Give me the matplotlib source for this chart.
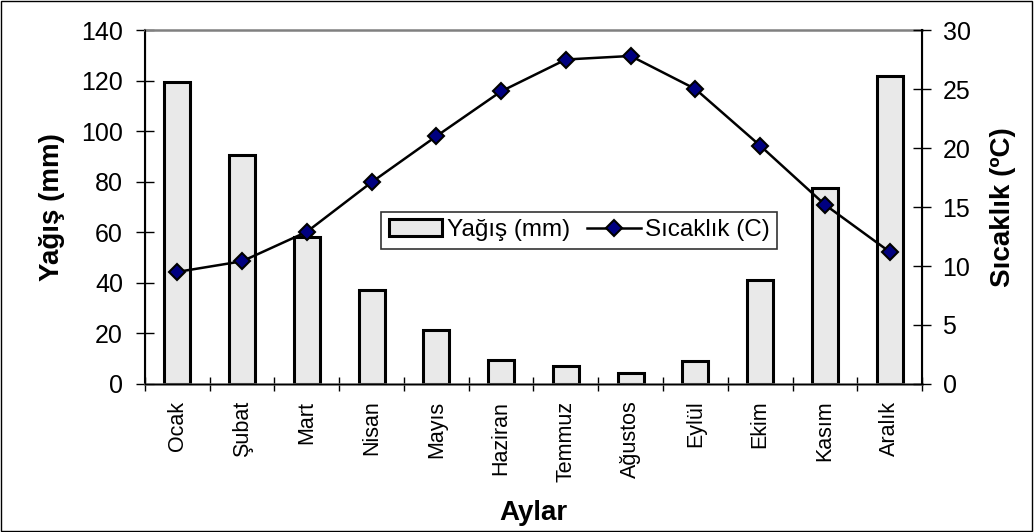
import numpy as np
import matplotlib.pyplot as plt

plt.rcParams['font.family'] = ['Liberation Sans', 'DejaVu Sans']

# Aylık yağış ve sıcaklık değerleri
aylar = ['Ocak', 'Şubat', 'Mart', 'Nisan', 'Mayıs', 'Haziran',
         'Temmuz', 'Ağustos', 'Eylül', 'Ekim', 'Kasım', 'Aralık']
yagis = [119.5, 90.5, 58, 37, 21.5, 9.5, 7, 4.5, 9, 41, 77.5, 122]
sicaklik = [9.5, 10.4, 12.9, 17.1, 21.0, 24.8, 27.5, 27.8, 25.0, 20.2, 15.2, 11.2]

fig = plt.figure(figsize=(10.34, 5.32), dpi=100)
ax = fig.add_axes([0.1402, 0.2782, 0.7515, 0.6654])
ax2 = ax.twinx()

x = np.arange(len(aylar))
bars = ax.bar(x, yagis, width=0.4, facecolor='#e9e9e9', edgecolor='black',
              linewidth=2.2, label='Yağış (mm)', zorder=2)
line, = ax2.plot(x, sicaklik, color='black', linewidth=1.8, marker='D',
                 markersize=8.5, markerfacecolor='#000080', markeredgecolor='black',
                 markeredgewidth=1.5, label='Sıcaklık (C)')

ax.set_xlim(-0.5, len(aylar) - 0.5)
ax.set_ylim(0, 140)
ax2.set_ylim(0, 30)
ax.set_yticks(np.arange(0, 141, 20))
ax2.set_yticks(np.arange(0, 31, 5))

ax.set_xticks(x)
ax.set_xticklabels(aylar, rotation=90, fontsize=15.5)
ax.set_xticks(np.arange(-0.5, len(aylar)), minor=True)
ax.tick_params(axis='x', which='major', length=0, pad=12)
ax.tick_params(axis='x', which='minor', length=9.5, width=1, direction='inout')
ax.tick_params(axis='y', labelsize=18, length=13.5, width=1, direction='inout', pad=9)
ax2.tick_params(axis='y', labelsize=18, length=13.5, width=1, direction='inout', pad=8)

ax.spines['left'].set_linewidth(1.5)
ax2.spines['right'].set_linewidth(1.5)
ax.spines['top'].set_color('#808080')
ax.spines['top'].set_linewidth(1.8)
ax.spines['bottom'].set_color('#606060')
ax.spines['bottom'].set_linewidth(1.8)
ax2.spines['top'].set_visible(False)

ax.set_ylabel('Yağış (mm)', fontsize=20, fontweight='bold', labelpad=12)
ax2.set_ylabel('Sıcaklık (ºC)', fontsize=20, fontweight='bold', labelpad=14)
ax.set_xlabel('Aylar', fontsize=20, fontweight='bold', labelpad=13)

leg = ax2.legend([bars, line], ['Yağış (mm)', 'Sıcaklık (C)'], loc='center',
                 bbox_to_anchor=(0.559, 0.434), ncol=2, fontsize=17.5, frameon=True,
                 fancybox=False, edgecolor='black', handlelength=2.2,
                 columnspacing=0.7, handletextpad=0.2, borderpad=0.3,
                 borderaxespad=0)
leg.get_frame().set_linewidth(1.2)

fig.patches.append(plt.Rectangle((0.001, 0.002), 0.997, 0.996, transform=fig.transFigure,
                                 fill=False, edgecolor='black', linewidth=1))

fig.savefig('out.png', dpi=100)
